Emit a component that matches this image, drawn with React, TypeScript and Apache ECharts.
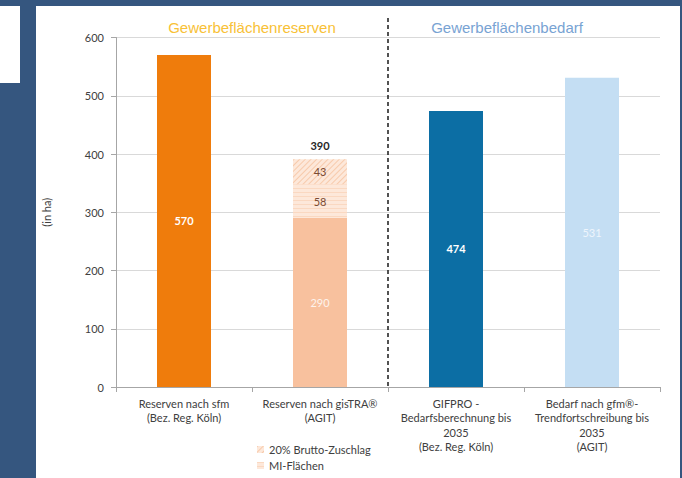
import React, { useEffect, useRef } from "react";
import * as echarts from "echarts";

const categories = [
  "Reserven nach sfm\n(Bez. Reg. Köln)",
  "Reserven nach gisTRA®\n(AGIT)",
  "GIFPRO -\nBedarfsberechnung bis\n2035\n(Bez. Reg. Köln)",
  "Bedarf nach gfm®-\nTrendfortschreibung bis\n2035\n(AGIT)",
];
const baseValues = [570, 290, 474, 531];
const miFlaechen = [null, 58, null, null];
const bruttoZuschlag = [null, 43, null, null];
const totalLabels = [null, 390, null, null];
const groupTitles = ["Gewerbeflächenreserven", "Gewerbeflächenbedarf"];
const legendNames = ["20% Brutto-Zuschlag", "MI-Flächen"];
const yMin = 0;
const yMax = 600;
const yInterval = 100;

const baseColors = ["#ef7c0c", "#f8c19e", "#0c6ea4", "#c4def3"];
const baseLabelColors = ["#ffffff", "#fdf3ec", "#ffffff", "#eef5fc"];
const baseLabelWeights = ["bold", "normal", "bold", "normal"];
const FONT = "Lato, 'Open Sans', sans-serif";

export default function App() {
  const ref = useRef<HTMLDivElement>(null);
  useEffect(() => {
    document.body.style.margin = "0";
    if (!ref.current) return;
    const chart = echarts.init(ref.current, null, { renderer: "svg" });
    chart.setOption({
      animation: false,
      textStyle: { fontFamily: FONT },
      grid: { left: 116, right: 22, top: 37.5, bottom: 91 },
      legend: {
        data: legendNames,
        orient: "vertical",
        left: 257,
        top: 443,
        padding: 0,
        itemWidth: 7,
        itemHeight: 7,
        itemGap: 3,
        icon: "rect",
        textStyle: { fontSize: 11, color: "#404040", fontFamily: FONT, lineHeight: 13 },
      },
      xAxis: {
        type: "category",
        data: categories,
        axisLine: { lineStyle: { color: "#a6a6a6" } },
        axisTick: { show: true, length: 5, lineStyle: { color: "#a6a6a6" } },
        axisLabel: {
          interval: 0,
          margin: 9,
          fontSize: 11,
          lineHeight: 14.5,
          color: "#404040",
          fontFamily: FONT,
        },
      },
      yAxis: {
        type: "value",
        min: yMin,
        max: yMax,
        interval: yInterval,
        name: "(in ha)",
        nameLocation: "middle",
        nameGap: 64,
        nameTextStyle: { fontSize: 11, color: "#404040", fontFamily: FONT },
        axisLine: { show: true, lineStyle: { color: "#a6a6a6" } },
        axisTick: { show: true, length: 5, lineStyle: { color: "#a6a6a6" } },
        axisLabel: { margin: 12, fontSize: 11, color: "#404040", fontFamily: FONT },
        splitLine: { lineStyle: { color: "#d9d9d9" } },
      },
      series: [
        {
          name: "Basis",
          type: "bar",
          stack: "total",
          barWidth: 54,
          data: baseValues.map((v, i) => ({
            value: v,
            itemStyle: { color: baseColors[i] },
            label: { color: baseLabelColors[i], fontWeight: baseLabelWeights[i] },
          })),
          label: { show: true, position: "inside", fontSize: 11, fontFamily: FONT },
        },
        {
          name: "MI-Flächen",
          type: "bar",
          stack: "total",
          barWidth: 54,
          data: miFlaechen,
          itemStyle: {
            color: "#fde8da",
            decal: {
              symbol: "rect",
              dashArrayX: [1, 0],
              dashArrayY: [1, 3],
              rotation: 0,
              color: "#fad8c1",
            },
          },
          label: { show: true, position: "inside", fontSize: 11, color: "#7a4a32", fontFamily: FONT },
        },
        {
          name: "20% Brutto-Zuschlag",
          type: "bar",
          stack: "total",
          barWidth: 54,
          data: bruttoZuschlag,
          itemStyle: {
            color: "#fde8da",
            decal: {
              symbol: "rect",
              dashArrayX: [1, 0],
              dashArrayY: [1, 3],
              rotation: -Math.PI / 4,
              color: "#f7caab",
            },
          },
          label: { show: true, position: "inside", fontSize: 11, color: "#7a4a32", fontFamily: FONT },
        },
        {
          name: "Summe",
          type: "bar",
          stack: "total",
          barWidth: 54,
          data: totalLabels.map((v) => (v == null ? null : 0)),
          itemStyle: { color: "transparent" },
          label: {
            show: true,
            position: "top",
            distance: 8,
            fontSize: 11,
            fontWeight: "bold",
            color: "#262626",
            fontFamily: FONT,
            formatter: (p: any) => String(totalLabels[p.dataIndex] ?? ""),
          },
        },
      ],
    });

    const px = categories.map((c, i) => chart.convertToPixel({ xAxisIndex: 0 }, i) as number);
    const y0 = chart.convertToPixel({ yAxisIndex: 0 }, 0) as number;
    const sepX = (px[1] + px[2]) / 2;
    chart.setOption({
      graphic: [
        {
          type: "line",
          shape: { x1: sepX, y1: 18, x2: sepX, y2: y0 },
          style: { stroke: "#1a1a1a", lineWidth: 1.5, lineDash: [4, 3] },
          z: 10,
        },
        {
          type: "text",
          x: (px[0] + px[1]) / 2,
          y: 27,
          style: {
            text: groupTitles[0],
            fill: "#f8c136",
            font: "15px 'Liberation Sans', Arial, sans-serif",
            textAlign: "center",
            textVerticalAlign: "middle",
          },
        },
        {
          type: "text",
          x: (px[2] + px[3]) / 2 - 17,
          y: 27,
          style: {
            text: groupTitles[1],
            fill: "#78a3d3",
            font: "15px 'Liberation Sans', Arial, sans-serif",
            textAlign: "center",
            textVerticalAlign: "middle",
          },
        },
      ],
    });
    return () => chart.dispose();
  }, []);

  return (
    <div style={{ position: "relative", width: 682, height: 478, background: "#35567f", overflow: "hidden" }}>
      <div style={{ position: "absolute", left: 36, top: 6, width: 644, height: 472, background: "#ffffff" }} />
      <div style={{ position: "absolute", left: 0, top: 6, width: 20, height: 77, background: "#ffffff" }} />
      <div ref={ref} style={{ position: "absolute", left: 0, top: 0, width: 682, height: 478 }} />
    </div>
  );
}
